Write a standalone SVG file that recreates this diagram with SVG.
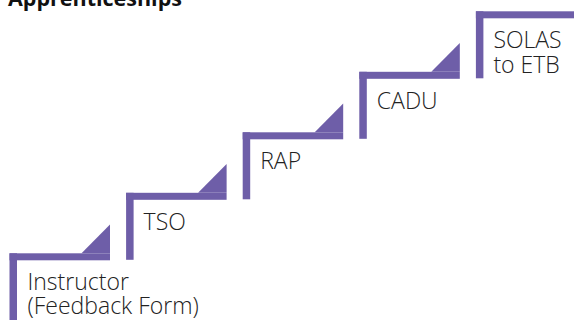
<svg xmlns="http://www.w3.org/2000/svg" width="574" height="320" viewBox="0 0 574 320">
  <style>
    .step { fill: #6e5ea8; }
    .label { font-family: "Open Sans", "Liberation Sans", sans-serif; font-size: 23px; font-weight: 300; fill: #222222; }
    .title { font-family: "Open Sans", "Liberation Sans", sans-serif; font-size: 21.5px; font-weight: 700; fill: #111111; }
  </style>
  <rect width="574" height="320" fill="#ffffff"/>
  <text class="title" x="8" y="5.5">Apprenticeships</text>

  <g id="connectors"></g>

  <g id="step-instructor">
    <rect class="step" x="9.5" y="253.3" width="7.5" height="66.7"/>
    <rect class="step" x="9.5" y="253.3" width="100.5" height="7"/>
    <polygon class="step" points="81.5,253.3 110,253.3 110,224.5"/>
    <text class="label" x="27.5" y="289.5">Instructor</text>
    <text class="label" x="27.5" y="313.5">(Feedback Form)</text>
  </g>

  <g id="step-tso">
    <rect class="step" x="126.1" y="192.8" width="7.5" height="67"/>
    <rect class="step" x="126.1" y="192.8" width="100.5" height="7"/>
    <polygon class="step" points="198.1,192.8 226.6,192.8 226.6,164"/>
    <text class="label" x="143.6" y="229.5">TSO</text>
  </g>

  <g id="step-rap">
    <rect class="step" x="242.7" y="132.3" width="7.5" height="67"/>
    <rect class="step" x="242.7" y="132.3" width="100.5" height="7"/>
    <polygon class="step" points="314.7,132.3 343.2,132.3 343.2,103.5"/>
    <text class="label" x="260.2" y="169">RAP</text>
  </g>

  <g id="step-cadu">
    <rect class="step" x="359.3" y="71.8" width="7.5" height="67"/>
    <rect class="step" x="359.3" y="71.8" width="100.5" height="7"/>
    <polygon class="step" points="431.3,71.8 459.8,71.8 459.8,43"/>
    <text class="label" x="376.8" y="108.5">CADU</text>
  </g>

  <g id="step-solas">
    <rect class="step" x="475.9" y="11.3" width="7.5" height="67"/>
    <rect class="step" x="475.9" y="11.3" width="98.1" height="7"/>
    <text class="label" x="493.4" y="48">SOLAS</text>
    <text class="label" x="493.4" y="72.5">to ETB</text>
  </g>
</svg>
